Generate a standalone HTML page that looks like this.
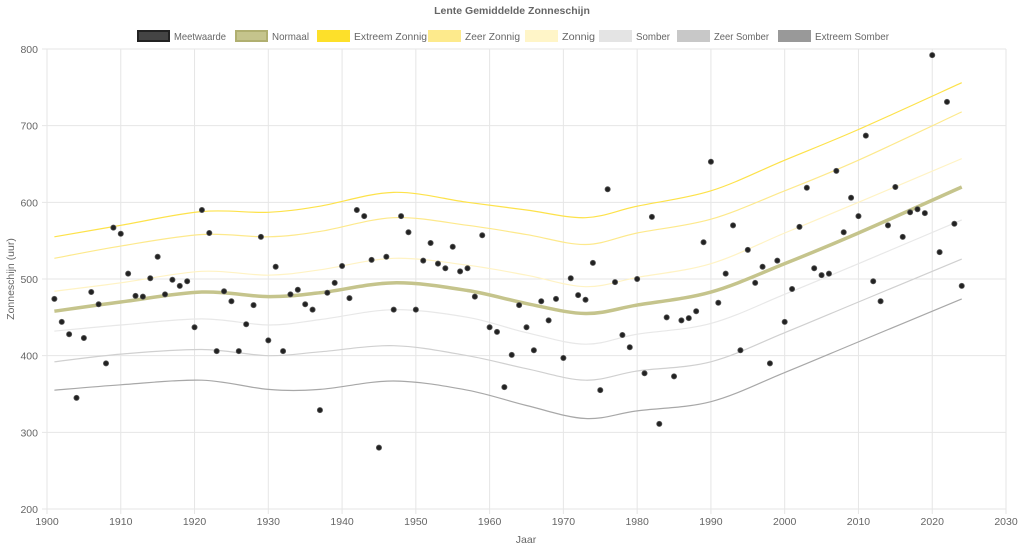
<!DOCTYPE html>
<html><head><meta charset="utf-8"><style>
html,body{margin:0;padding:0;background:#fff;}
svg{display:block;font-family:"Liberation Sans",sans-serif;}
</style></head><body>
<svg id="chart" width="1024" height="546" xmlns="http://www.w3.org/2000/svg">
<text x="512" y="14" text-anchor="middle" font-size="10.5" font-weight="bold" fill="#666">Lente Gemiddelde Zonneschijn</text>
<g id="legend"></g>
<g id="grid"></g>
<g id="bands"></g>
<g id="points"></g>
<text x="526" y="543" text-anchor="middle" font-size="10.5" fill="#666">Jaar</text>
<text transform="translate(14,279) rotate(-90)" text-anchor="middle" font-size="10.5" fill="#666">Zonneschijn (uur)</text>
</svg>
<script>
const years = [];
for (let y = 1901; y <= 2024; y++) years.push(y);
const values = [474,444,428,345,423,483,467,390,567,559,507,478,477,501,529,480,499,491,497,437,
590,560,406,484,471,406,441,466,555,420,516,406,480,486,467,460,329,482,495,517,
475,590,582,525,280,529,460,582,561,460,524,547,520,514,542,510,514,477,557,437,
431,359,401,466,437,407,471,446,474,397,501,479,473,521,355,617,496,427,411,500,
377,581,311,450,373,446,449,458,548,653,469,507,570,407,538,495,516,390,524,444,
487,568,619,514,505,507,641,561,606,582,687,497,471,570,620,555,587,591,586,792,
535,731,572,491];
const knotYears = [1901,1910,1921,1930,1937,1947,1957,1965,1973,1980,1990,2000,2010,2024];
const normaal = [458,470,483,477,482,495,485,468,455,466,483,520,560,620];
const extreemZonnig = [555,570,588,587,595,613,600,590,580,595,615,655,695,756];
const zeerZonnig = [527,543,558,555,562,580,570,558,545,560,578,615,655,718];
const zonnig = [484,495,510,505,512,527,518,505,490,502,520,560,600,657];
const somber = [432,440,448,440,447,460,450,430,415,428,442,480,520,577];
const zeerSomber = [392,402,408,400,405,413,400,383,368,380,392,430,470,526];
const extreemSomber = [355,362,368,356,356,367,355,335,318,328,340,378,418,474];
const xTicks = [1900,1910,1920,1930,1940,1950,1960,1970,1980,1990,2000,2010,2020,2030];
const yTicks = [200,300,400,500,600,700,800];

const NS = "http://www.w3.org/2000/svg";
const X0=47, X1=1006, Y0=509, Y1=49;
const xs = v => X0 + (v-1900)/(2030-1900)*(X1-X0);
const ys = v => Y0 - (v-200)/(800-200)*(Y0-Y1);
function mk(tag, attrs, parent){const e=document.createElementNS(NS,tag);for(const k in attrs)e.setAttribute(k,attrs[k]);parent.appendChild(e);return e;}

const grid=document.getElementById('grid');
xTicks.forEach(t=>{
  const l=mk('line',{x1:xs(t),x2:xs(t),y1:Y1,y2:Y0+5,stroke:'#e6e6e6'},grid);
  
  
  const tx=mk('text',{x:xs(t),y:Y0+16,'text-anchor':'middle','font-size':10.5,fill:'#666'},grid);
  tx.textContent=t;
  
  
});
yTicks.forEach(t=>{
  const l=mk('line',{x1:X0-5,x2:X1,y1:ys(t),y2:ys(t),stroke:'#e6e6e6'},grid);
  
  
  const tx=mk('text',{x:X0-9,y:ys(t)+4,'text-anchor':'end','font-size':10.5,fill:'#666'},grid);
  tx.textContent=t;
  
  
});

function smoothPath(kx, ky){
  const p=kx.map((x,i)=>[xs(x),ys(ky[i])]);
  let d='M'+p[0][0]+','+p[0][1];
  for(let i=0;i<p.length-1;i++){
    const p0=p[Math.max(i-1,0)],p1=p[i],p2=p[i+1],p3=p[Math.min(i+2,p.length-1)];
    const c1=[p1[0]+(p2[0]-p0[0])/6,p1[1]+(p2[1]-p0[1])/6];
    const c2=[p2[0]-(p3[0]-p1[0])/6,p2[1]-(p3[1]-p1[1])/6];
    d+=' C'+c1+' '+c2+' '+p2;
  }
  return d;
}
const bands=document.getElementById('bands');
const series=[
 [extreemSomber,'#a8a8a8',1.2,'extreem-somber-line'],
 [zeerSomber,'#d0d0d0',1.2,'zeer-somber-line'],
 [somber,'#e8e8e8',1.2,'somber-line'],
 [zonnig,'#fff3c4',1.2,'zonnig-line'],
 [zeerZonnig,'#fde98c',1.2,'zeer-zonnig-line'],
 [extreemZonnig,'#fde24a',1.2,'extreem-zonnig-line'],
 [normaal,'#c5c48c',3.5,'normaal-line']];
series.forEach(s=>{
  const p=mk('path',{d:smoothPath(knotYears,s[0]),fill:'none',stroke:s[1],'stroke-width':s[2]},bands);
  
  
});
const pts=document.getElementById('points');
years.forEach((yr,i)=>{
  const c=mk('circle',{cx:xs(yr),cy:ys(values[i]),r:2.6,fill:'#222',stroke:'#555','stroke-width':0.8},pts);
  
  
});

const legend=document.getElementById('legend');
const legItems=[
 [137,'Meetwaarde','#444','#222','meetwaarde',52],
 [235,'Normaal','#c5c48c','#b0af70','normaal',37],
 [317,'Extreem Zonnig','#fde02a','#fde02a','extreem-zonnig',73],
 [428,'Zeer Zonnig','#fdea8c','#fdea8c','zeer-zonnig',55],
 [525,'Zonnig','#fff5c8','#fff5c8','zonnig',33],
 [599,'Somber','#e4e4e4','#e4e4e4','somber',34],
 [677,'Zeer Somber','#c8c8c8','#c8c8c8','zeer-somber',55],
 [778,'Extreem Somber','#999','#999','extreem-somber',74]];
legItems.forEach(it=>{
  const g=mk('g',{},legend);
  
  
  mk('rect',{x:it[0]+1,y:31,width:31,height:10,fill:it[2],stroke:it[3],'stroke-width':2},g);
  const t=mk('text',{x:it[0]+37,y:40,'font-size':10.5,fill:'#666',textLength:it[5],lengthAdjust:'spacingAndGlyphs'},g);
  t.textContent=it[1];
});
</script>
</body></html>
